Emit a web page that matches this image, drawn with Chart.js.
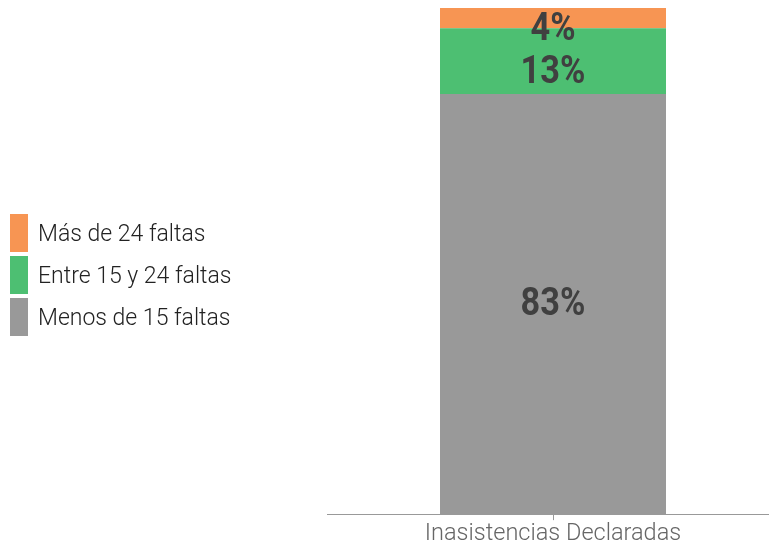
<!DOCTYPE html>
<html>
<head>
<meta charset="utf-8">
<script src="https://cdn.jsdelivr.net/npm/chart.js@4"></script>
<style>
  html,body{margin:0;padding:0;background:#fff;overflow:hidden;}
  #wrap{position:relative;width:769px;height:548px;overflow:hidden;}
  #chart{position:absolute;left:0;top:0;}
  #legend{position:absolute;left:10px;top:214px;font-family:Roboto,sans-serif;font-weight:300;font-size:23px;color:#222;}
  .lg-item{display:flex;align-items:center;height:38px;margin-bottom:4px;}
  .lg-box{width:18px;height:38px;margin-right:10px;}
</style>
</head>
<body>
<div id="wrap">
  <canvas id="chart" width="779" height="548"></canvas>
  <div id="legend"></div>
</div>
<script>
/* ====== DATA ====== */
const categories = ['Inasistencias Declaradas'];
const seriesNames = ['Menos de 15 faltas', 'Entre 15 y 24 faltas', 'Más de 24 faltas'];
const menos15 = [83];
const entre15y24 = [13];
const mas24 = [4];
const seriesColors = ['#999999', '#4dbf72', '#f79553'];

/* ====== helpers ====== */
const $ = (s, r=document)=> r.querySelector(s);

// labels "83%" centred in each segment (condensed look via x-scale)
const segLabels = {
  id:'segLabels',
  afterDatasetsDraw(chart){
    const ctx = chart.ctx;
    chart.data.datasets.forEach((ds, i)=>{
      chart.getDatasetMeta(i).data.forEach((bar, j)=>{
        const h = Math.abs(bar.base - bar.y);
        const mid = (bar.y + bar.base) / 2 + (h < 100 ? 12 : 1);
        ctx.save();
        ctx.translate(bar.x, mid);
        ctx.scale(0.88, 1);
        ctx.font = 'bold 39px Roboto, sans-serif';
        ctx.fillStyle = '#404040';
        ctx.textAlign = 'center';
        ctx.textBaseline = 'middle';
        ctx.fillText(ds.data[j] + '%', 0, 0);
        ctx.restore();
      });
    });
  }
};

const values = [menos15, entre15y24, mas24];
const datasets = seriesNames.map((n, i)=>({
  label: n,
  data: values[i],
  backgroundColor: seriesColors[i],
  borderWidth: 0,
  barPercentage: 0.5,
  categoryPercentage: 1
}));

new Chart($('#chart').getContext('2d'), {
  type: 'bar',
  data: { labels: categories, datasets },
  options: {
    responsive: false,
    animation: false,
    layout: { padding: { left: 327, top: 8, right: 0, bottom: 0 } },
    plugins: { legend: { display: false }, tooltip: { enabled: false } },
    scales: {
      x: {
        stacked: true,
        grid: { display: true, drawOnChartArea: false, offset: false, tickLength: 6, color: '#999' },
        border: { display: true, color: '#999', width: 1 },
        ticks: { color: '#666', padding: 1, font: { family: 'Roboto', weight: 300, size: 23.5, lineHeight: 1.1 } }
      },
      y: {
        stacked: true, display: false, min: 0, max: 100
      }
    }
  },
  plugins: [segLabels]
});

// html legend, top-down order like the stack
const lg = $('#legend');
[2, 1, 0].forEach(i=>{
  const d = document.createElement('div'); d.className = 'lg-item';
  d.innerHTML = `<span class="lg-box" style="background:${seriesColors[i]}"></span><span>${seriesNames[i]}</span>`;
  lg.appendChild(d);
});
</script>
</body>
</html>
